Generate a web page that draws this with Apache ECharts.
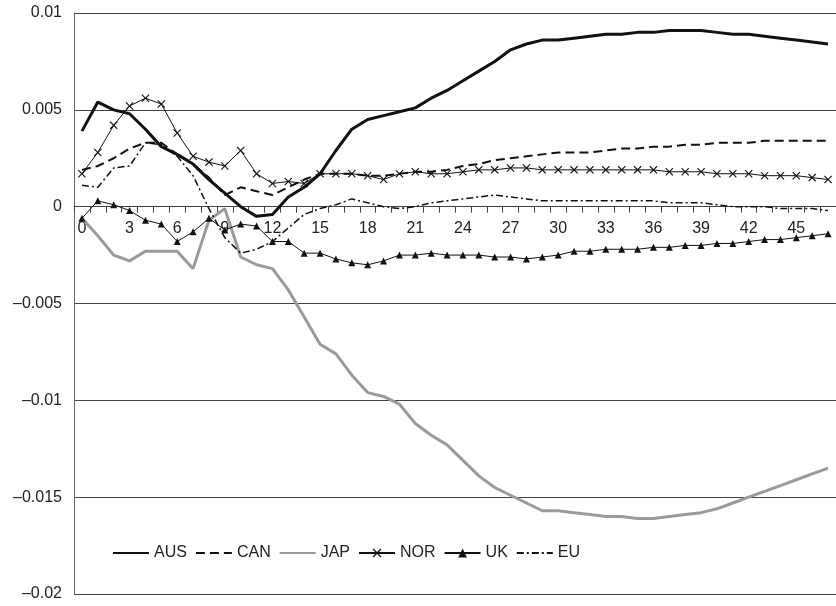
<!DOCTYPE html>
<html>
<head>
<meta charset="utf-8">
<script src="https://cdn.jsdelivr.net/npm/echarts@6/dist/echarts.min.js"></script>
<style>
html,body{margin:0;padding:0;background:#fff;}
#chart{width:836px;height:606px;}
</style>
</head>
<body>
<div id="chart"></div>
<script>
var categories = ['0','1','2','3','4','5','6','7','8','9','10','11','12','13','14','15','16','17','18','19','20','21','22','23','24','25','26','27','28','29','30','31','32','33','34','35','36','37','38','39','40','41','42','43','44','45','46','47'];

var yTickLabels = ['0.01','0.005','0','\u20130.005','\u20130.01','\u20130.015','\u20130.02'];

var seriesNames = ['AUS','CAN','JAP','NOR','UK','EU'];

var AUS = [0.0039,0.0054,0.0050,0.0048,0.0040,0.0031,0.0027,0.0022,0.0014,0.0007,0.0000,-0.0005,-0.0004,0.0005,0.0010,0.0017,0.0029,0.0040,0.0045,0.0047,0.0049,0.0051,0.0056,0.0060,0.0065,0.0070,0.0075,0.0081,0.0084,0.0086,0.0086,0.0087,0.0088,0.0089,0.0089,0.0090,0.0090,0.0091,0.0091,0.0091,0.0090,0.0089,0.0089,0.0088,0.0087,0.0086,0.0085,0.0084];

var CAN = [0.0019,0.0021,0.0025,0.0030,0.0033,0.0033,0.0027,0.0022,0.0015,0.0006,0.0010,0.0008,0.0006,0.0010,0.0014,0.0017,0.0017,0.0017,0.0016,0.0016,0.0017,0.0018,0.0018,0.0019,0.0021,0.0022,0.0024,0.0025,0.0026,0.0027,0.0028,0.0028,0.0028,0.0029,0.0030,0.0030,0.0031,0.0031,0.0032,0.0032,0.0033,0.0033,0.0033,0.0034,0.0034,0.0034,0.0034,0.0034];

var JAP = [-0.0006,-0.0015,-0.0025,-0.0028,-0.0023,-0.0023,-0.0023,-0.0032,-0.0007,-0.0001,-0.0026,-0.0030,-0.0032,-0.0043,-0.0057,-0.0071,-0.0076,-0.0087,-0.0096,-0.0098,-0.0102,-0.0112,-0.0118,-0.0123,-0.0131,-0.0139,-0.0145,-0.0149,-0.0153,-0.0157,-0.0157,-0.0158,-0.0159,-0.0160,-0.0160,-0.0161,-0.0161,-0.0160,-0.0159,-0.0158,-0.0156,-0.0153,-0.0150,-0.0147,-0.0144,-0.0141,-0.0138,-0.0135];

var NOR = [0.0017,0.0028,0.0042,0.0052,0.0056,0.0053,0.0038,0.0026,0.0023,0.0021,0.0029,0.0017,0.0012,0.0013,0.0012,0.0017,0.0017,0.0017,0.0016,0.0014,0.0017,0.0018,0.0017,0.0017,0.0018,0.0019,0.0019,0.0020,0.0020,0.0019,0.0019,0.0019,0.0019,0.0019,0.0019,0.0019,0.0019,0.0018,0.0018,0.0018,0.0017,0.0017,0.0017,0.0016,0.0016,0.0016,0.0015,0.0014];

var UK = [-0.0006,0.0003,0.0001,-0.0002,-0.0007,-0.0009,-0.0018,-0.0013,-0.0006,-0.0012,-0.0009,-0.0010,-0.0018,-0.0018,-0.0024,-0.0024,-0.0027,-0.0029,-0.0030,-0.0028,-0.0025,-0.0025,-0.0024,-0.0025,-0.0025,-0.0025,-0.0026,-0.0026,-0.0027,-0.0026,-0.0025,-0.0023,-0.0023,-0.0022,-0.0022,-0.0022,-0.0021,-0.0021,-0.0020,-0.0020,-0.0019,-0.0019,-0.0018,-0.0017,-0.0017,-0.0016,-0.0015,-0.0014];

var EU = [0.0011,0.0010,0.0020,0.0021,0.0033,0.0032,0.0026,0.0016,-0.0001,-0.0016,-0.0024,-0.0022,-0.0018,-0.0011,-0.0004,-0.0001,0.0001,0.0004,0.0002,0.0000,-0.0001,0.0000,0.0002,0.0003,0.0004,0.0005,0.0006,0.0005,0.0004,0.0003,0.0003,0.0003,0.0003,0.0003,0.0003,0.0003,0.0003,0.0002,0.0002,0.0002,0.0001,0.0000,0.0000,0.0000,-0.0001,-0.0001,-0.0001,-0.0002];

var FONT = '"Liberation Sans", Arial, Helvetica, sans-serif';
var crossPath = 'path://M0,1 L1,0 L5,4 L9,0 L10,1 L6,5 L10,9 L9,10 L5,6 L1,10 L0,9 L4,5 Z';

var GRID_TOP = 13, GRID_BOTTOM = 12, CHART_H = 606;
var Y_MIN = -0.02, Y_MAX = 0.01;
var plotH = CHART_H - GRID_TOP - GRID_BOTTOM;
// shift x axis from the bottom edge up to the zero line
var zeroOffset = -plotH * (0 - Y_MIN) / (Y_MAX - Y_MIN);

var chart = echarts.init(document.getElementById('chart'), null, {renderer: 'canvas'});

function lineSeries(name, data, lineStyle, symbol, symbolSize) {
  return {
    name: name,
    type: 'line',
    data: data,
    symbol: symbol || 'none',
    symbolSize: symbolSize || 0,
    showSymbol: !!symbol,
    showAllSymbol: true,
    lineStyle: lineStyle,
    itemStyle: {color: lineStyle.color, borderColor: lineStyle.color, borderWidth: 0, opacity: symbol ? 1 : 0},
    emphasis: {disabled: true},
    animation: false
  };
}

var option = {
  animation: false,
  backgroundColor: '#ffffff',
  grid: {left: 74, right: 0, top: GRID_TOP, bottom: GRID_BOTTOM, containLabel: false},
  legend: {
    left: 112,
    top: 545,
    padding: 0,
    itemWidth: 36,
    itemHeight: 11,
    itemGap: 8,
    data: seriesNames,
    textStyle: {fontFamily: FONT, fontSize: 16, color: '#222'}
  },
  xAxis: {
    type: 'category',
    data: categories,
    boundaryGap: true,
    position: 'bottom',
    offset: zeroOffset,
    axisLine: {onZero: false, lineStyle: {color: '#444', width: 1}},
    axisTick: {show: true, interval: 0, length: 6, alignWithLabel: false, lineStyle: {color: '#444', width: 1}},
    axisLabel: {interval: 2, margin: 14, fontFamily: FONT, fontSize: 16, color: '#222'},
    splitLine: {show: false}
  },
  yAxis: {
    type: 'value',
    min: Y_MIN,
    max: Y_MAX,
    interval: 0.005,
    axisLine: {show: true, lineStyle: {color: '#666', width: 1}},
    axisTick: {show: false},
    axisLabel: {
      margin: 12,
      fontFamily: FONT, fontSize: 16, color: '#222',
      formatter: function (v) {
        var idx = Math.round((Y_MAX - v) / 0.005);
        return yTickLabels[idx] !== undefined ? yTickLabels[idx] : '';
      }
    },
    splitLine: {show: true, lineStyle: {color: '#444', width: 1}}
  },
  series: [
    lineSeries('AUS', AUS, {color: '#111', width: 3, type: 'solid'}),
    lineSeries('CAN', CAN, {color: '#111', width: 2, type: [9, 5]}),
    lineSeries('JAP', JAP, {color: '#9a9a9a', width: 3, type: 'solid'}),
    lineSeries('NOR', NOR, {color: '#111', width: 1, type: 'solid'}, crossPath, 8),
    lineSeries('UK', UK, {color: '#111', width: 1, type: 'solid'}, 'triangle', 7),
    lineSeries('EU', EU, {color: '#111', width: 1.5, type: [7, 3, 2, 3]})
  ]
};

chart.setOption(option);
</script>
</body>
</html>
